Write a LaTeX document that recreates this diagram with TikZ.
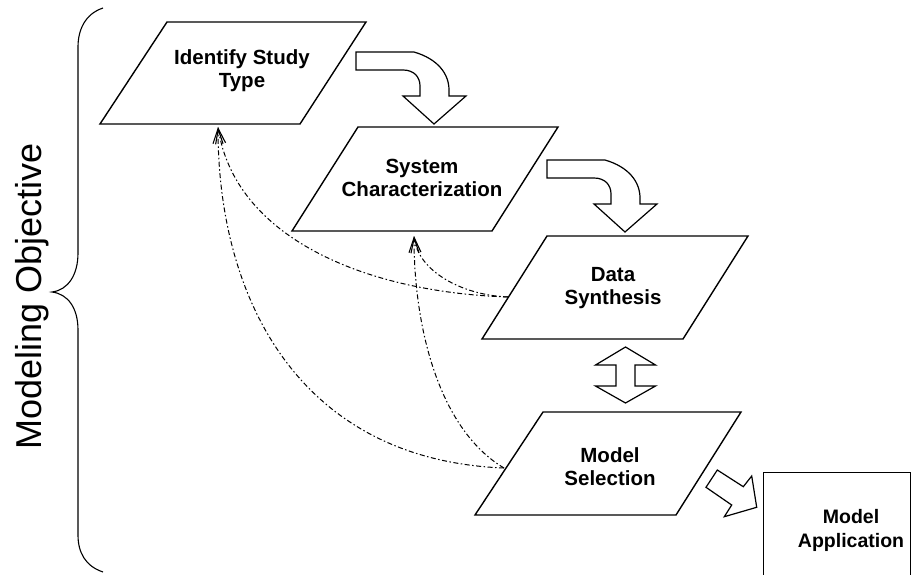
\documentclass[tikz,border=0pt]{standalone}
\usepackage{fontspec}
\setmainfont{Liberation Sans}
\usetikzlibrary{arrows.meta}
\begin{document}
\begin{tikzpicture}[x=1pt,y=-1pt,
  shapeline/.style={line width=1.4pt, line join=miter},
  blockarrow/.style={line width=1.2pt, fill=white, line join=miter},
  lbl/.style={font=\bfseries\fontsize{20.5}{23}\selectfont, align=center, inner sep=0pt},
  lblsmall/.style={font=\bfseries\fontsize{19.5}{24}\selectfont, align=center, inner sep=0pt},
  fb/.style={dash pattern=on 5pt off 2.5pt on 1.5pt off 2.5pt, line width=1pt, black,
    -{Straight Barb[length=15pt,width=10pt,line width=1.1pt]}},
  bentarrow/.pic={\draw[blockarrow] (0,0) -- (58,0) .. controls (82,7) and (93,22) .. (93,38)
      -- (93,44) -- (110,44) -- (78,72) -- (47,44) -- (64,44) -- (64,34)
      .. controls (64,25) and (58,18) .. (47,18) -- (0,18) -- cycle;}
]
\useasboundingbox (0,0) rectangle (915,575);

% brace and side label
\draw[line width=1.1pt] (103,8) .. controls (85,14) and (78,30) .. (78,47) -- (78,253)
  .. controls (78,275) and (68,290) .. (52,292)
  .. controls (68,294) and (78,308) .. (78,330) -- (78,535)
  .. controls (78,552) and (85,566) .. (103,572);
\node[rotate=90, anchor=base, inner sep=0pt, font=\fontsize{36}{40}\selectfont] (obj) at (41,296) {Modeling Objective};

% parallelograms
\draw[shapeline] (167,22) -- (366,22) -- (300,124) -- (100,124) -- cycle;
\node[lbl] (idt) at (242,71) {Identify Study\\Type};
\draw[shapeline] (358,127) -- (558,127) -- (492,231) -- (292,231) -- cycle;
\node[lbl] (sys) at (422,178) {System\\Characterization};
\draw[shapeline] (547,236) -- (748,236) -- (683,339) -- (482,339) -- cycle;
\node[lbl] (dat) at (613,288) {Data\\Synthesis};
\draw[shapeline] (543,412) -- (741,412) -- (676,515) -- (475,515) -- cycle;
\node[lbl] (sel) at (610,467) {Model\\Selection};

% model application box
\node[draw, line width=1.4pt, minimum width=147pt, minimum height=120pt, anchor=north west, inner sep=0pt] (appbox) at (763,472) {};
\node[lblsmall] (app) at (851,530) {Model\\Application};

% block arrows
\pic at (356,52) {bentarrow};
\pic at (547,160) {bentarrow};
\draw[blockarrow] (625.5,347) -- (655.5,365) -- (635,365) -- (635,386) -- (655.5,386)
  -- (625.5,403) -- (595.5,386) -- (616,386) -- (616,365) -- (595.5,365) -- cycle;
\draw[blockarrow] (706,487.3) -- (717.3,470) -- (743.3,486.7) -- (751.7,476)
  -- (756.7,507.3) -- (724.3,516.7) -- (731.7,505) -- cycle;

% feedback curves
\coordinate (datL) at (508,297);
\coordinate (selL) at (504,468);
\coordinate (idtB) at (218,127);
\coordinate (sysB) at (414,236);
\draw[fb] (datL) .. controls (360,292) and (235,235) .. (idtB);
\draw[fb] (datL) .. controls (460,295) and (418,270) .. (sysB);
\draw[fb] (selL) .. controls (300,460) and (218,300) .. (idtB);
\draw[fb] (selL) .. controls (440,430) and (414,330) .. (sysB);
\end{tikzpicture}
\end{document}
